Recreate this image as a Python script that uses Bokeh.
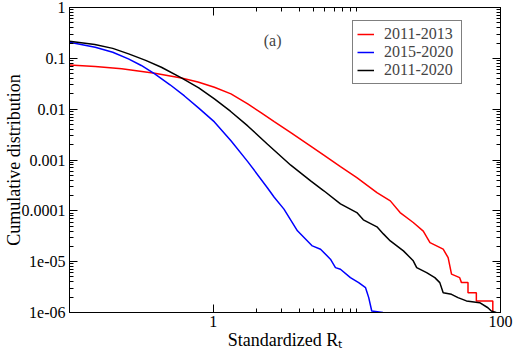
from bokeh.plotting import figure
from bokeh.models import (FixedTicker, CustomJSTickFormatter, LogAxis, Label,
                          Legend, LegendItem, Range1d)
from bokeh.embed import file_html
from bokeh.resources import INLINE

FONT = "Liberation Serif"

# ---- data ----
series_names = ["2011-2013", "2015-2020", "2011-2020"]

red_x = [0.1, 0.151, 0.231, 0.392, 0.601, 0.784, 1.02, 1.33, 1.74, 2.15, 2.66, 3.47,
         4.77, 5.89, 7.69, 10.0, 13.8, 17.1, 20.0, 24.7, 29.0, 32.3, 39.9, 43.2,
         45.6, 52.0, 53.5, 59.4, 59.4, 67.9, 67.9, 88.4, 88.4]
red_y = [0.0743, 0.0688, 0.0621, 0.0508, 0.0412, 0.0342, 0.0269, 0.0200, 0.01265,
         0.00857, 0.0057, 0.00346, 0.00188, 0.00125, 7.4e-4, 4.5e-4, 2.28e-4,
         1.57e-4, 9.25e-5, 5.9e-5, 4.0e-5, 2.37e-5, 1.76e-5, 1.2e-5, 5.7e-6,
         4.85e-6, 3.87e-6, 3.87e-6, 2.45e-6, 2.45e-6, 1.69e-6, 1.69e-6, 1.0e-6]

blue_x = [0.1, 0.151, 0.200, 0.257, 0.316, 0.392, 0.501, 0.631, 0.794, 1.02, 1.33,
          1.74, 2.39, 2.66, 3.11, 3.86, 4.90, 5.59, 6.55, 7.10, 7.69, 9.02, 10.3,
          11.5, 12.1, 12.7, 15.2]
blue_y = [0.207, 0.165, 0.132, 0.0975, 0.0724, 0.0494, 0.0302, 0.0182, 0.01047,
          0.00562, 0.0024, 9.3e-4, 2.82e-4, 1.85e-4, 1.08e-4, 4.04e-5, 2.04e-5,
          1.76e-5, 1.12e-5, 7.64e-6, 7.1e-6, 4.85e-6, 3.87e-6, 3.08e-6, 1.96e-6,
          1.07e-6, 1.0e-6]

black_x = [0.1, 0.150, 0.200, 0.258, 0.339, 0.436, 0.601, 0.794, 1.02, 1.318, 1.74,
           2.39, 3.47, 4.77, 5.89, 7.69, 10.0, 11.1, 13.8, 15.3, 17.1, 21.1, 24.7,
           26.1, 30.6, 34.9, 37.8, 39.9, 45.6, 50.6, 57.9, 71.6, 81.7, 86.3, 93.4]
black_y = [0.217, 0.187, 0.157, 0.1225, 0.0912, 0.0667, 0.0412, 0.0263, 0.0159,
           0.00912, 0.00468, 0.00204, 7.9e-4, 3.9e-4, 2.48e-4, 1.37e-4, 9.25e-5,
           6.65e-5, 4.84e-5, 3.52e-5, 2.56e-5, 1.63e-5, 1.04e-5, 7.64e-6, 6.09e-6,
           4.85e-6, 3.87e-6, 2.45e-6, 2.28e-6, 1.96e-6, 1.69e-6, 1.56e-6, 1.24e-6,
           1.07e-6, 1.0e-6]

x_ticks = [1, 100]
x_tick_labels = ["1", "100"]
x_minor = [2, 3, 4, 5, 6, 7, 8, 9, 10]
y_ticks = [1e-6, 1e-5, 1e-4, 1e-3, 1e-2, 1e-1, 1]
y_tick_labels = ["1e-06", "1e-05", "0.0001", "0.001", "0.01", "0.1", "1"]
y_minor = [k * 10.0 ** n for n in range(-6, 0) for k in range(2, 10)]

x_title = "Standardized R\u209c"
y_title = "Cumulative distribution"
panel_tag = "(a)"

# ---- figure ----
p = figure(width=514, height=354, x_axis_type="log", y_axis_type="log",
           x_range=Range1d(0.1, 100), y_range=Range1d(1e-6, 1),
           output_backend="svg", toolbar_location=None,
           min_border_left=68, min_border_right=14, min_border_top=7,
           min_border_bottom=42)
p.grid.visible = False
p.outline_line_color = "black"
p.outline_line_width = 1
p.background_fill_color = "white"
p.border_fill_color = "white"

JS = """
for (let i = 0; i < vals.length; i++) {
  if (Math.abs(Math.log10(vals[i]) - Math.log10(tick)) < 1e-6) return labs[i];
}
return "";
"""
fx = CustomJSTickFormatter(args=dict(vals=x_ticks, labs=x_tick_labels), code=JS)
fy = CustomJSTickFormatter(args=dict(vals=y_ticks, labs=y_tick_labels), code=JS)


def style(ax, show_labels=True):
    ax.major_tick_in = 8
    ax.major_tick_out = 0
    ax.minor_tick_in = 4
    ax.minor_tick_out = 0
    ax.axis_line_color = "black"
    ax.major_tick_line_color = "black"
    ax.minor_tick_line_color = "black"
    ax.major_label_text_font = FONT
    ax.major_label_text_font_size = "16px"
    ax.major_label_text_color = "black" if show_labels else None
    ax.major_label_standoff = 3
    ax.axis_label_text_font = FONT
    ax.axis_label_text_font_size = "18px"
    ax.axis_label_text_font_style = "normal"
    ax.axis_label_text_color = "black"
    ax.axis_label_standoff = 0


xa = p.xaxis[0]
xa.ticker = FixedTicker(ticks=x_ticks, minor_ticks=x_minor)
xa.formatter = fx
style(xa)
xa.axis_label = x_title
ya = p.yaxis[0]
ya.ticker = FixedTicker(ticks=y_ticks, minor_ticks=y_minor)
ya.formatter = fy
style(ya)
ya.major_label_standoff = 4
ya.axis_label_standoff = -5
ya.axis_label = y_title

top = LogAxis(ticker=FixedTicker(ticks=x_ticks, minor_ticks=x_minor), formatter=fx)
style(top, False)
p.add_layout(top, "above")
right = LogAxis(ticker=FixedTicker(ticks=y_ticks, minor_ticks=y_minor), formatter=fy)
style(right, False)
p.add_layout(right, "right")

r_red = p.line(red_x, red_y, line_color="#ff0000", line_width=1.5)
r_blue = p.line(blue_x, blue_y, line_color="#0000ff", line_width=1.5)
r_black = p.line(black_x, black_y, line_color="black", line_width=1.5)

legend = Legend(items=[LegendItem(label=series_names[0], renderers=[r_red]),
                       LegendItem(label=series_names[1], renderers=[r_blue]),
                       LegendItem(label=series_names[2], renderers=[r_black])],
                location=(283, 228))
legend.border_line_color = "black"
legend.border_line_width = 1
legend.background_fill_color = "white"
legend.background_fill_alpha = 1
legend.label_text_font = FONT
legend.label_text_font_size = "16px"
legend.label_text_line_height = 1.0
legend.glyph_width = 17
legend.glyph_height = 16
legend.label_height = 16
legend.label_width = 73
legend.spacing = 0
legend.padding = 4
legend.margin = 0
legend.label_standoff = 10
p.add_layout(legend)

p.add_layout(Label(x=2.25, y=0.224, text=panel_tag, text_font=FONT,
                   text_font_size="16px", text_baseline="middle"))

open("out.html", "w").write(file_html(p, INLINE))
